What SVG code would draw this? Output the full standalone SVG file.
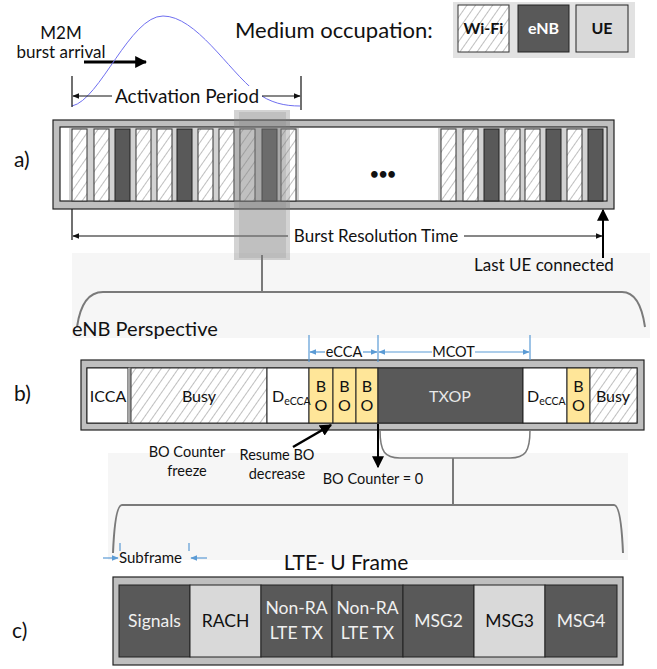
<svg xmlns="http://www.w3.org/2000/svg" width="657" height="669" viewBox="0 0 657 669">
<style>
text{font-family:Lato,"Liberation Sans",sans-serif;fill:#111}
.big{font-size:22px}
.mid{font-size:17px}
.sm{font-size:14.5px}
.cell{font-size:16px}
.lg{font-size:16px;font-weight:bold}
.frame{fill:#bfbfbf;stroke:#222;stroke-width:1.2}
.inner{fill:#fff;stroke:#222;stroke-width:1.2}
.hat{fill:url(#hatch);stroke:#333;stroke-width:1}
.dk{fill:#595959;stroke:#222;stroke-width:1}
.lt{fill:#d9d9d9;stroke:#222;stroke-width:1}
.wh{fill:#fff;stroke:#222;stroke-width:1}
.bo{fill:#ffe699;stroke:#222;stroke-width:1}
.blue{stroke:#5b9bd5;stroke-width:1.2;fill:none}
.dim{stroke:#111;stroke-width:1.2;fill:none}
.brk{stroke:#7a7a7a;stroke-width:2;fill:none}
</style>
<defs>
<pattern id="hatch" width="7" height="7" patternUnits="userSpaceOnUse" patternTransform="rotate(35)">
<rect width="7" height="7" fill="#fff"/>
<line x1="0" y1="0" x2="0" y2="7" stroke="#808080" stroke-width="1"/>
</pattern>
<marker id="ah" viewBox="0 0 10 10" refX="9" refY="5" markerWidth="7" markerHeight="7" orient="auto-start-reverse" markerUnits="userSpaceOnUse">
<path d="M0,1 L10,5 L0,9 z" fill="#111"/>
</marker>
<marker id="ahB" viewBox="0 0 10 10" refX="9" refY="5" markerWidth="12" markerHeight="12" orient="auto-start-reverse" markerUnits="userSpaceOnUse">
<path d="M0,0 L10,5 L0,10 z" fill="#000"/>
</marker>
<marker id="ahBlue" viewBox="0 0 10 10" refX="9" refY="5" markerWidth="7" markerHeight="7" orient="auto-start-reverse" markerUnits="userSpaceOnUse">
<path d="M0,1 L10,5 L0,9 z" fill="#5b9bd5"/>
</marker>
</defs>
<rect width="657" height="669" fill="#fff"/>

<!-- top area -->
<g id="burst">
<text class="mid" x="61" y="39" text-anchor="middle">M2M</text>
<text class="mid" x="61" y="58" text-anchor="middle">burst arrival</text>
<line x1="84" y1="62" x2="146" y2="62" stroke="#000" stroke-width="3" marker-end="url(#ahB)"/>
<path d="M72,106 C100,100 130,16 163,16 C196,16 228,70 256,92 C270,103 285,106 300,106" fill="none" stroke="#6f6ff0" stroke-width="1"/>
</g>
<g id="activation">
<line class="dim" x1="72" y1="76" x2="72" y2="107"/>
<line class="dim" x1="301" y1="76" x2="301" y2="110"/>
<line class="dim" x1="73" y1="96" x2="300" y2="96" marker-start="url(#ah)" marker-end="url(#ah)"/>
<rect x="112" y="86" width="150" height="20" fill="#fff"/>
<text x="187" y="103" text-anchor="middle" style="font-size:19px">Activation Period</text>
</g>
<g id="legend">
<text class="big" x="235" y="38">Medium occupation:</text>
<rect x="453" y="2" width="182" height="56" fill="#e2e2e2"/>
<rect x="458" y="5" width="51" height="47" class="hat"/>
<text class="lg" x="483.5" y="34" text-anchor="middle">Wi-Fi</text>
<rect x="518" y="5" width="51" height="47" class="dk"/>
<text class="lg" x="543.5" y="34" text-anchor="middle" style="fill:#fff">eNB</text>
<rect x="576" y="5" width="52" height="47" class="lt"/>
<text class="lg" x="602" y="34" text-anchor="middle">UE</text>
</g>

<text x="14" y="167" style="font-size:21px">a)</text>
<text x="14" y="401" style="font-size:21px">b)</text>
<text x="12" y="638" style="font-size:21px">c)</text>

<!-- section a -->
<g id="frame-a">
<rect x="53" y="120" width="561" height="89" class="frame"/>
<rect x="60" y="127" width="547" height="74" class="inner"/>
<g fill="#d2d2d2">
<rect x="69" y="128" width="223" height="72"/>
<rect x="281" y="128" width="18" height="72"/>
<rect x="438" y="128" width="168" height="72"/>
</g>
<rect x="72" y="129" width="15" height="72" class="hat"/>
<rect x="94" y="129" width="15" height="72" class="hat"/>
<rect x="115" y="129" width="15" height="72" class="dk"/>
<rect x="136" y="129" width="15" height="72" class="hat"/>
<rect x="157" y="129" width="15" height="72" class="hat"/>
<rect x="177" y="129" width="15" height="72" class="dk"/>
<rect x="198" y="129" width="15" height="72" class="hat"/>
<rect x="219" y="129" width="15" height="72" class="hat"/>
<rect x="240" y="129" width="15" height="72" class="hat"/>
<rect x="262" y="129" width="15" height="72" class="dk"/>
<rect x="281" y="129" width="15" height="72" class="hat"/>
<rect x="441" y="129" width="15" height="72" class="hat"/>
<rect x="463" y="129" width="15" height="72" class="hat"/>
<rect x="484" y="129" width="15" height="72" class="dk"/>
<rect x="505" y="129" width="15" height="72" class="hat"/>
<rect x="525" y="129" width="15" height="72" class="hat"/>
<rect x="546" y="129" width="15" height="72" class="dk"/>
<rect x="567" y="129" width="15" height="72" class="hat"/>
<rect x="588" y="129" width="15" height="72" class="dk"/>
<text x="383" y="179" text-anchor="middle" style="font-size:15px;font-weight:bold">•••</text>
</g>
<g id="resolution">
<line class="dim" x1="72" y1="209" x2="72" y2="240"/>
<line class="dim" x1="73" y1="236" x2="602" y2="236" marker-start="url(#ah)" marker-end="url(#ah)"/>
<rect x="288" y="226" width="176" height="20" fill="#fff"/>
<text class="mid" x="376" y="242" text-anchor="middle">Burst Resolution Time</text>
<rect x="72" y="253" width="578" height="85" fill="#f6f6f6"/>
<line x1="603" y1="258" x2="603" y2="210" stroke="#000" stroke-width="2" marker-end="url(#ahB)"/>
<text class="mid" x="474" y="271">Last UE connected</text>
</g>
<g id="zoom-a">
<rect x="234" y="110" width="56" height="150" fill="#808080" opacity="0.35"/>
<rect x="239" y="112" width="47" height="146" fill="#808080" opacity="0.22"/>
<line class="brk" x1="262" y1="255" x2="262" y2="292"/>
<path class="brk" d="M77,327 Q82,292 103,292 L622,292 Q640,292 645,327"/>
</g>

<!-- section b -->
<text x="72" y="336" style="font-size:20px">eNB Perspective</text>
<g id="frame-b">
<rect x="81" y="360" width="563" height="70" class="frame"/>
<rect x="87" y="368" width="550" height="55" class="inner"/>
<rect x="87" y="368" width="41" height="55" class="wh"/>
<rect x="128" y="368" width="3" height="55" fill="#a8a8a8"/>
<rect x="131" y="368" width="136" height="55" class="hat"/>
<rect x="267" y="368" width="42" height="55" class="wh"/>
<rect x="309" y="368" width="24" height="55" class="bo"/>
<rect x="333" y="368" width="23" height="55" class="bo"/>
<rect x="356" y="368" width="22" height="55" class="bo"/>
<rect x="378" y="368" width="145" height="55" class="dk"/>
<rect x="523" y="368" width="44" height="55" class="wh"/>
<rect x="567" y="368" width="23" height="55" class="bo"/>
<rect x="590" y="368" width="47" height="55" class="hat"/>
<text class="cell" x="108" y="402" text-anchor="middle">ICCA</text>
<text class="cell" x="199" y="402" text-anchor="middle">Busy</text>
<text class="cell" x="272" y="402">D<tspan style="font-size:10.5px" dy="3">eCCA</tspan></text>
<text class="cell" x="321" y="392" text-anchor="middle">B</text>
<text class="cell" x="321" y="411" text-anchor="middle">O</text>
<text class="cell" x="344.5" y="392" text-anchor="middle">B</text>
<text class="cell" x="344.5" y="411" text-anchor="middle">O</text>
<text class="cell" x="367" y="392" text-anchor="middle">B</text>
<text class="cell" x="367" y="411" text-anchor="middle">O</text>
<text class="cell" x="450" y="402" text-anchor="middle" style="fill:#e8e8e8">TXOP</text>
<text class="cell" x="527" y="402">D<tspan style="font-size:10.5px" dy="3">eCCA</tspan></text>
<text class="cell" x="578.5" y="392" text-anchor="middle">B</text>
<text class="cell" x="578.5" y="411" text-anchor="middle">O</text>
<text class="cell" x="613" y="402" text-anchor="middle">Busy</text>
</g>
<g id="ecca-mcot">
<line class="blue" x1="309" y1="335" x2="309" y2="362"/>
<line class="blue" x1="378" y1="335" x2="378" y2="362"/>
<line class="blue" x1="530" y1="335" x2="530" y2="360"/>
<line class="blue" x1="325" y1="352" x2="310" y2="352" marker-end="url(#ahBlue)"/>
<line class="blue" x1="363" y1="352" x2="377" y2="352" marker-end="url(#ahBlue)"/>
<text class="sm" x="344" y="357" text-anchor="middle">eCCA</text>
<line class="blue" x1="432" y1="352" x2="379" y2="352" marker-end="url(#ahBlue)"/>
<line class="blue" x1="475" y1="352" x2="529" y2="352" marker-end="url(#ahBlue)"/>
<text class="sm" x="453.5" y="357" text-anchor="middle">MCOT</text>
</g>
<rect x="108" y="453" width="520" height="107" fill="#f6f6f6"/>
<g id="notes-b">
<text class="sm" x="187" y="457" text-anchor="middle">BO Counter</text>
<text class="sm" x="187" y="476" text-anchor="middle">freeze</text>
<text class="sm" x="277" y="460" text-anchor="middle">Resume BO</text>
<text class="sm" x="277" y="479" text-anchor="middle">decrease</text>
<line x1="293" y1="447" x2="331" y2="425" stroke="#000" stroke-width="2.5" marker-end="url(#ahB)"/>
<text class="sm" x="373" y="484" text-anchor="middle">BO Counter = 0</text>
<line x1="378" y1="424" x2="378" y2="467" stroke="#000" stroke-width="2" marker-end="url(#ahB)"/>
</g>
<g id="zoom-b">
<path d="M380,430 C380,452 385,458 400,458 L510,458 C525,458 530,452 530,430" stroke="#7a7a7a" stroke-width="1.5" fill="none"/>
<line class="brk" x1="453" y1="458" x2="453" y2="505"/>
<path class="brk" d="M113,553 Q115,505 122,505 L614,505 Q621,505 623,553"/>
</g>

<!-- section c -->
<g id="subframe">
<line class="blue" x1="120" y1="543" x2="120" y2="551"/>
<line class="blue" x1="189" y1="543" x2="189" y2="551"/>
<line class="blue" x1="103" y1="558" x2="118" y2="558" marker-end="url(#ahBlue)"/>
<line class="blue" x1="207" y1="558" x2="191" y2="558" marker-end="url(#ahBlue)"/>
<text x="119" y="563" style="font-size:15px">Subframe</text>
</g>
<text x="346" y="570" text-anchor="middle" style="font-size:21px">LTE- U Frame</text>
<g id="frame-c">
<rect x="113" y="577" width="510" height="88" class="frame"/>
<rect x="119" y="585" width="71" height="72" class="dk"/>
<rect x="190" y="585" width="71" height="72" class="lt"/>
<rect x="261" y="585" width="71" height="72" class="dk"/>
<rect x="332" y="585" width="71" height="72" class="dk"/>
<rect x="403" y="585" width="71" height="72" class="dk"/>
<rect x="474" y="585" width="71" height="72" class="lt"/>
<rect x="545" y="585" width="72" height="72" class="dk"/>
<g style="font-size:17.5px">
<text x="154.5" y="627" text-anchor="middle" style="fill:#f0f0f0">Signals</text>
<text x="225.5" y="627" text-anchor="middle">RACH</text>
<text x="296.5" y="614" text-anchor="middle" style="fill:#f0f0f0">Non-RA</text>
<text x="296.5" y="639" text-anchor="middle" style="fill:#f0f0f0">LTE TX</text>
<text x="367.5" y="614" text-anchor="middle" style="fill:#f0f0f0">Non-RA</text>
<text x="367.5" y="639" text-anchor="middle" style="fill:#f0f0f0">LTE TX</text>
<text x="438.5" y="627" text-anchor="middle" style="fill:#f0f0f0">MSG2</text>
<text x="509.5" y="627" text-anchor="middle">MSG3</text>
<text x="581" y="627" text-anchor="middle" style="fill:#f0f0f0">MSG4</text>
</g>
</g>
</svg>
